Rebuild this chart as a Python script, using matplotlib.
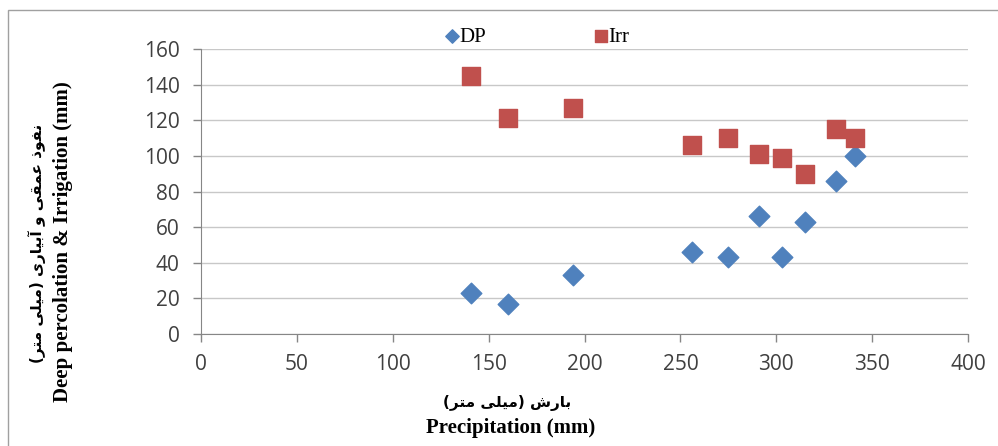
import matplotlib
matplotlib.use("Agg")
import matplotlib.pyplot as plt
from matplotlib.patches import Rectangle

# Data
precip = [141, 160, 194, 256, 275, 291, 303, 315, 331, 341]
dp = [23, 17, 33, 46, 43, 66, 43, 63, 86, 100]
irr = [145, 121, 127, 106, 110, 101, 99, 90, 115, 110]

x_ticks = [0, 50, 100, 150, 200, 250, 300, 350, 400]
y_ticks = [0, 20, 40, 60, 80, 100, 120, 140, 160]

ylabel_fa = "نفوذ عمقی و آبیاری (میلی متر)"
ylabel_en = "Deep percolation & Irrigation (mm)"
xlabel_fa = "بارش (میلی متر)"
xlabel_en = "Precipitation (mm)"

# matplotlib 3.10 neither joins nor reorders Arabic script,
# so pick the presentation forms by hand and lay out right-to-left
FORMS = {
    "ا": ("\uFE8D", "\uFE8E", None, None),
    "آ": ("\uFE81", "\uFE82", None, None),
    "ذ": ("\uFEAB", "\uFEAC", None, None),
    "ر": ("\uFEAD", "\uFEAE", None, None),
    "و": ("\uFEED", "\uFEEE", None, None),
    "ب": ("\uFE8F", "\uFE90", "\uFE91", "\uFE92"),
    "ت": ("\uFE95", "\uFE96", "\uFE97", "\uFE98"),
    "ش": ("\uFEB5", "\uFEB6", "\uFEB7", "\uFEB8"),
    "ع": ("\uFEC9", "\uFECA", "\uFECB", "\uFECC"),
    "ف": ("\uFED1", "\uFED2", "\uFED3", "\uFED4"),
    "ق": ("\uFED5", "\uFED6", "\uFED7", "\uFED8"),
    "ل": ("\uFEDD", "\uFEDE", "\uFEDF", "\uFEE0"),
    "م": ("\uFEE1", "\uFEE2", "\uFEE3", "\uFEE4"),
    "ن": ("\uFEE5", "\uFEE6", "\uFEE7", "\uFEE8"),
    "ی": ("\uFBFC", "\uFBFD", "\uFBFE", "\uFBFF"),
}


def shape_fa(text):
    out = []
    for i, ch in enumerate(text):
        if ch not in FORMS:
            out.append({"(": ")", ")": "("}.get(ch, ch))
            continue
        prev = text[i - 1] if i > 0 else ""
        nxt = text[i + 1] if i + 1 < len(text) else ""
        dual = FORMS[ch][2] is not None
        jp = prev in FORMS and FORMS[prev][2] is not None
        jn = dual and nxt in FORMS
        if jp and jn:
            out.append(FORMS[ch][3])
        elif jp:
            out.append(FORMS[ch][1])
        elif jn:
            out.append(FORMS[ch][2])
        else:
            out.append(FORMS[ch][0])
    return "".join(reversed(out))


blue = "#4F81BD"
red = "#C0504D"
serif = ["Liberation Serif", "DejaVu Sans"]
persian = ["DejaVu Sans"]

fig = plt.figure(figsize=(9.98, 4.46), dpi=100)
ax = fig.add_axes([0.2014, 0.2511, 0.7686, 0.6390])

ax.scatter(precip, dp, marker="D", s=110, color=blue, label="DP", zorder=3)
ax.scatter(precip, irr, marker="s", s=150, color=red, label="Irr", zorder=3)

ax.set_xlim(0, 400)
ax.set_ylim(0, 160)
ax.set_xticks(x_ticks)
ax.set_yticks(y_ticks)
ax.grid(axis="y", color="#c8c8c8", linewidth=1)
ax.set_axisbelow(True)
for s in ["top", "right"]:
    ax.spines[s].set_visible(False)
for s in ["left", "bottom"]:
    ax.spines[s].set_color("#868686")
ax.tick_params(axis="both", colors="#868686", labelcolor="#404040",
               labelsize=15, length=5.5, width=1)
ax.tick_params(axis="x", pad=9)
ax.tick_params(axis="y", pad=10)
for lab in ax.get_xticklabels() + ax.get_yticklabels():
    lab.set_family(["Open Sans", "DejaVu Sans"])

# axis titles (English line + Persian line)
fig.text(0.063, 0.458, ylabel_en, rotation=90, ha="center", va="center",
         family=serif, fontweight="bold", fontsize=15)
fig.text(0.037, 0.455, shape_fa(ylabel_fa), rotation=90, ha="center", va="center",
         family=persian, fontweight="bold", fontsize=11)
fig.text(0.508, 0.097, shape_fa(xlabel_fa), ha="center", va="center",
         family=persian, fontweight="bold", fontsize=11)
fig.text(0.512, 0.040, xlabel_en, ha="center", va="center",
         family=serif, fontweight="bold", fontsize=15)

ax.legend(loc="center left", bbox_to_anchor=(0.4466, 0.917), bbox_transform=fig.transFigure,
          ncol=2, frameon=False, columnspacing=5.2, handletextpad=0.05,
          handlelength=0.6, markerscale=0.65, borderpad=0, borderaxespad=0,
          prop={"family": serif, "size": 15})

# chart border (only top and left edges are inside the picture)
fig.patches.append(Rectangle((8 / 998, -0.05), 1.05, 1 - 10 / 446 + 0.05,
                             transform=fig.transFigure, fill=False,
                             edgecolor="#a0a0a0", linewidth=1))

fig.savefig("out.png", dpi=100)
